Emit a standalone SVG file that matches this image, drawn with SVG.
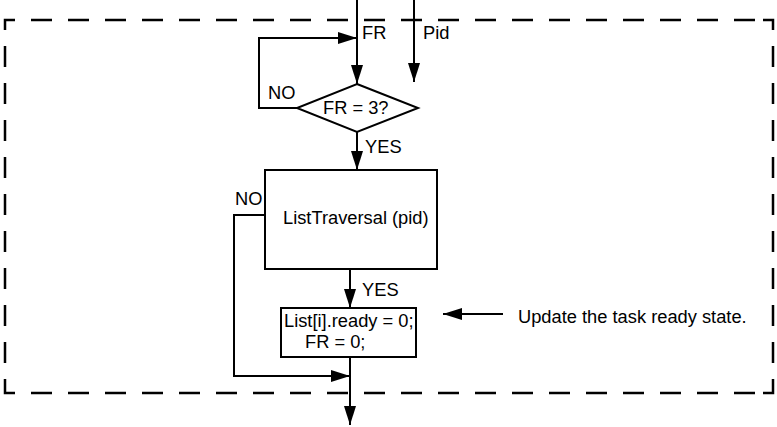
<svg xmlns="http://www.w3.org/2000/svg" width="777" height="427" viewBox="0 0 777 427">
<style>
text{font-family:"Liberation Sans",Arial,sans-serif;font-size:18.3px;fill:#000}
.ln{fill:none;stroke:#000;stroke-width:2}
.shape{fill:#fff;stroke:#000;stroke-width:2}
.dash{fill:none;stroke:#000;stroke-width:2.5;stroke-dasharray:21 16;stroke-dashoffset:21}
.corner{fill:none;stroke:#000;stroke-width:2.5}
</style>
<defs>
<marker id="ah" markerWidth="20" markerHeight="12" refX="19" refY="6" orient="auto" markerUnits="userSpaceOnUse">
<path d="M0,0 L19,6 L0,12 Z" fill="#000"/>
</marker>
</defs>
<g id="boundary">
<polyline class="corner" points="5,30 5,20 15,20"/>
<polyline class="corner" points="763,20 773,20 773,30"/>
<polyline class="corner" points="773,383 773,393 763,393"/>
<polyline class="corner" points="15,393 5,393 5,383"/>
<line class="dash" x1="15" y1="20" x2="763" y2="20"/>
<line class="dash" x1="15" y1="393" x2="763" y2="393"/>
<line class="dash" x1="5" y1="30" x2="5" y2="383"/>
<line class="dash" x1="773" y1="30" x2="773" y2="383"/>
</g>
<g id="connectors">
<line class="ln" x1="357" y1="0" x2="357" y2="84" marker-end="url(#ah)"/>
<line class="ln" x1="414" y1="0" x2="414" y2="82" marker-end="url(#ah)"/>
<polyline class="ln" points="297,108 259,108 259,38 357,38" marker-end="url(#ah)"/>
<line class="ln" x1="357" y1="132" x2="357" y2="170" marker-end="url(#ah)"/>
<line class="ln" x1="350" y1="269" x2="350" y2="308" marker-end="url(#ah)"/>
<polyline class="ln" points="265,215 234,215 234,376 350,376" marker-end="url(#ah)"/>
<line class="ln" x1="350" y1="357" x2="350" y2="425" marker-end="url(#ah)"/>
<line class="ln" x1="503" y1="314" x2="443" y2="314" marker-end="url(#ah)"/>
</g>
<g id="labels">
<text x="362" y="39">FR</text>
<text x="423" y="39">Pid</text>
<text x="268" y="99">NO</text>
<text x="365" y="153">YES</text>
<text x="235" y="205">NO</text>
<text x="362" y="296">YES</text>
<text x="518" y="323">Update the task ready state.</text>
</g>
<g id="decision">
<polygon class="shape" points="357,84 418,108 357,132 297,108"/>
<text x="323" y="114">FR = 3?</text>
</g>
<g id="traversal">
<rect class="shape" x="265" y="170" width="172" height="99"/>
<text x="283" y="224">ListTraversal (pid)</text>
</g>
<g id="update">
<rect class="shape" x="281" y="308" width="135" height="49"/>
<text x="284" y="327">List[i].ready = 0;</text>
<text x="305" y="348">FR = 0;</text>
</g>
</svg>
